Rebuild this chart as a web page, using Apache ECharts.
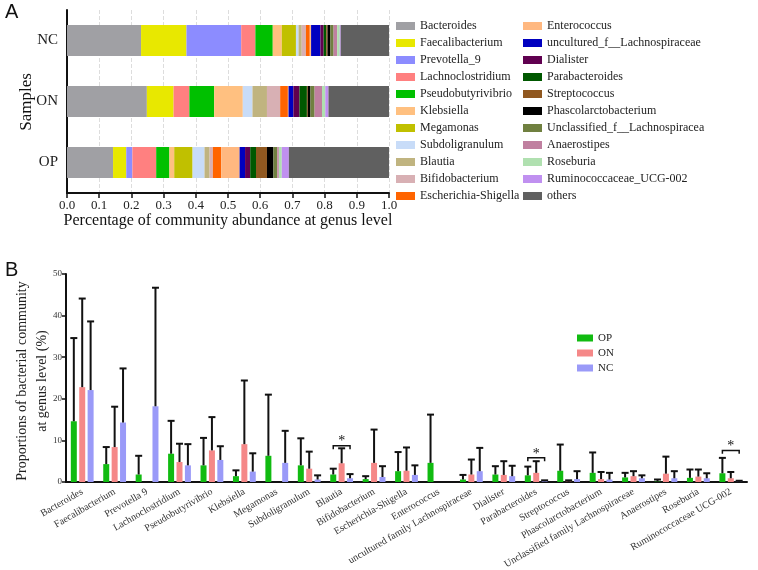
<!DOCTYPE html>
<html>
<head>
<meta charset="utf-8">
<script src="https://cdn.jsdelivr.net/npm/echarts@6/dist/echarts.min.js"></script>
<style>
  html, body { margin: 0; padding: 0; background: #fff; }
  #chart { width: 758px; height: 570px; }
</style>
</head>
<body>
<div id="chart"></div>
<script>
// panel A: relative abundance per sample (stacked, sums to 1)
let samples = ['OP', 'ON', 'NC'];
let genera = ['Bacteroides', 'Faecalibacterium', 'Prevotella_9', 'Lachnoclostridium', 'Pseudobutyrivibrio',
    'Klebsiella', 'Megamonas', 'Subdoligranulum', 'Blautia', 'Bifidobacterium', 'Escherichia-Shigella',
    'Enterococcus', 'uncultured_f__Lachnospiraceae', 'Dialister', 'Parabacteroides', 'Streptococcus',
    'Phascolarctobacterium', 'Unclassified_f__Lachnospiracea', 'Anaerostipes', 'Roseburia',
    'Ruminococcaceae_UCG-002', 'others'];
let abundOP = [0.143, 0.041, 0.019, 0.074, 0.041, 0.015, 0.057, 0.037, 0.016, 0.010, 0.026,
    0.057, 0.017, 0.016, 0.018, 0.034, 0.020, 0.012, 0.005, 0.009, 0.022, 0.311];
let abundON = [0.248, 0.083, 0, 0.049, 0.077, 0.089, 0, 0.030, 0.045, 0.041, 0.024,
    0.002, 0.015, 0.019, 0.023, 0.003, 0.008, 0.013, 0.023, 0.010, 0.010, 0.188];
let abundNC = [0.230, 0.141, 0.170, 0.044, 0.054, 0.028, 0.044, 0.008, 0.010, 0.013, 0.012,
    0.004, 0.029, 0.010, 0.008, 0.004, 0.009, 0.010, 0.011, 0.008, 0.003, 0.150];
let abundTicks = [0, 0.1, 0.2, 0.3, 0.4, 0.5, 0.6, 0.7, 0.8, 0.9, 1.0];

// panel B: mean proportion (%) and top of error bar per group
let genusB = ['Bacteroides', 'Faecalibacterium', 'Prevotella 9', 'Lachnoclostridium', 'Pseudobutyrivibrio',
    'Klebsiella', 'Megamonas', 'Subdoligranulum', 'Blautia', 'Bifidobacterium', 'Escherichia-Shigella',
    'Enterococcus', 'uncultured family Lachnospiraceae', 'Dialister', 'Parabacteroides', 'Streptococcus',
    'Phascolarctobacterium', 'Unclassified family Lachnospiraceae', 'Anaerostipes', 'Roseburia',
    'Ruminococcaceae UCG-002'];
let meanOP = [14.6, 4.3, 1.8, 6.8, 4.0, 1.4, 6.3, 4.0, 1.8, 0.7, 2.6, 4.6, 0.6, 1.8, 1.6, 2.7, 2.2, 1.1, 0.1, 1.0, 2.1];
let topOP = [34.6, 8.4, 6.3, 14.7, 10.6, 2.8, 21.0, 10.5, 3.2, 1.4, 7.2, 16.2, 1.7, 3.8, 3.7, 9.0, 7.1, 2.2, 0.6, 3.0, 5.8];
let meanON = [22.8, 8.4, 0, 4.8, 7.6, 9.1, 0, 3.2, 4.5, 4.6, 2.7, 0, 1.8, 1.7, 2.2, 0.1, 0.7, 1.4, 2.0, 1.3, 0.9];
let topON = [44.1, 18.1, 0, 9.2, 15.6, 24.4, 0, 7.3, 8.1, 12.6, 8.3, 0, 5.4, 5.0, 5.0, 0.4, 2.4, 2.6, 6.1, 3.0, 2.4];
let meanNC = [22.1, 14.3, 18.2, 4.0, 5.3, 2.5, 4.6, 0.6, 0.9, 1.2, 1.7, 0, 2.6, 1.4, 0.2, 0.7, 0.6, 0.9, 0.9, 0.9, 0.1];
let topNC = [38.6, 27.3, 46.7, 9.1, 8.6, 6.9, 12.3, 1.6, 1.9, 3.8, 4.0, 0, 8.2, 3.9, 0.4, 2.6, 2.2, 1.6, 2.6, 2.1, 0.3];
// significance brackets (OP vs NC): category index, bracket height
let sigIdx = [8, 14, 20];
let sigLevel = [8.7, 5.8, 7.6];

let genusColors = ['#a0a0a4', '#e8e800', '#8c8cff', '#ff8080', '#00c000', '#ffc080', '#c0c000', '#c8dcf8',
    '#c0b480', '#d8b0b4', '#ff6400', '#ffb880', '#0000c0', '#600050', '#005800', '#905820', '#000000',
    '#708040', '#c080a0', '#b0e0b0', '#c090f0', '#606060'];
let groupColors = ['#11bb11', '#f58888', '#9a9af8'];

const SERIF = 'Liberation Serif';
const BAR_W = 6;
const BAR_STEP = 8.4;

let chart = echarts.init(document.getElementById('chart'));

let seriesA = genera.map(function (g, i) {
    return {
        name: g,
        type: 'bar',
        stack: 'total',
        xAxisIndex: 0,
        yAxisIndex: 0,
        barWidth: 31,
        itemStyle: { color: genusColors[i] },
        data: [abundOP[i], abundON[i], abundNC[i]],
        silent: true,
    };
});

let groups = [
    { name: 'OP', mean: meanOP, top: topOP },
    { name: 'ON', mean: meanON, top: topON },
    { name: 'NC', mean: meanNC, top: topNC },
];

let seriesB = groups.map(function (g, k) {
    return {
        name: g.name,
        type: 'bar',
        xAxisIndex: 1,
        yAxisIndex: 1,
        barWidth: BAR_W,
        barGap: '40%',
        itemStyle: { color: groupColors[k] },
        data: g.mean,
        silent: true,
    };
});

let errSeries = groups.map(function (g, k) {
    return {
        type: 'custom',
        xAxisIndex: 1,
        yAxisIndex: 1,
        silent: true,
        z: 5,
        data: g.mean.map(function (m, i) { return [i, g.top[i], m]; }),
        renderItem: function (params, api) {
            let top = api.value(1);
            if (top <= 0) {
                return;
            }
            let pTop = api.coord([api.value(0), top]);
            let pMean = api.coord([api.value(0), api.value(2)]);
            let x = pTop[0] + (k - 1) * BAR_STEP;
            let st = { stroke: '#111', lineWidth: 2 };
            return {
                type: 'group',
                children: [
                    { type: 'line', shape: { x1: x, y1: pMean[1], x2: x, y2: pTop[1] }, style: st },
                    { type: 'line', shape: { x1: x - 3.5, y1: pTop[1], x2: x + 3.5, y2: pTop[1] }, style: st },
                ],
            };
        },
    };
});

let sigSeries = {
    type: 'custom',
    xAxisIndex: 1,
    yAxisIndex: 1,
    silent: true,
    z: 6,
    data: sigIdx.map(function (c, i) { return [c, sigLevel[i]]; }),
    renderItem: function (params, api) {
        let p = api.coord([api.value(0), api.value(1)]);
        let pLow = api.coord([api.value(0), api.value(1) - 0.8]);
        let x1 = p[0] - BAR_STEP;
        let x2 = p[0] + BAR_STEP;
        return {
            type: 'group',
            children: [
                {
                    type: 'polyline',
                    shape: { points: [[x1, pLow[1]], [x1, p[1]], [x2, p[1]], [x2, pLow[1]]] },
                    style: { stroke: '#111', lineWidth: 1.5, fill: null },
                },
                {
                    type: 'text',
                    style: {
                        text: '*', x: p[0], y: p[1] + 3, textAlign: 'center', textVerticalAlign: 'bottom',
                        fontSize: 14, fontFamily: SERIF, fill: '#111',
                    },
                },
            ],
        };
    },
};

let legendText = { fontFamily: SERIF, fontSize: 12, color: '#222', lineHeight: 14 };

chart.setOption({
    animation: false,
    backgroundColor: '#fff',
    textStyle: { fontFamily: SERIF },
    graphic: [
        { type: 'text', left: 5, top: 2, style: { text: 'A', fontSize: 20, fontFamily: 'Liberation Sans', fill: '#111' } },
        { type: 'text', left: 5, top: 260, style: { text: 'B', fontSize: 20, fontFamily: 'Liberation Sans', fill: '#111' } },
        // rotated axis titles, placed by hand
        {
            type: 'text', x: 27, y: 102, rotation: Math.PI / 2,
            style: {
                text: 'Samples', fontSize: 17, fontFamily: SERIF, fill: '#111',
                textAlign: 'center', textVerticalAlign: 'middle',
            },
        },
        {
            type: 'text', x: 32, y: 381, rotation: Math.PI / 2,
            style: {
                text: 'Proportions of bacterial community\nat genus level (%)', fontSize: 14, lineHeight: 20,
                fontFamily: SERIF, fill: '#222', textAlign: 'center', textVerticalAlign: 'middle',
            },
        },
    ],
    legend: [
        {
            data: genera.slice(0, 11), orient: 'vertical', left: 391, top: 14,
            itemWidth: 19, itemHeight: 8, itemGap: 3, icon: 'rect', textStyle: legendText,
            selectedMode: false,
        },
        {
            data: genera.slice(11), orient: 'vertical', left: 518, top: 14,
            itemWidth: 19, itemHeight: 8, itemGap: 3, icon: 'rect', textStyle: legendText,
            selectedMode: false,
        },
        {
            data: ['OP', 'ON', 'NC'], orient: 'vertical', left: 572, top: 327,
            itemWidth: 16, itemHeight: 7, itemGap: 3, icon: 'rect',
            textStyle: { fontFamily: SERIF, fontSize: 11, color: '#222', lineHeight: 12 },
            selectedMode: false,
        },
    ],
    grid: [
        { left: 67, top: 10, width: 322, height: 183, outerBoundsMode: 'none' },
        { left: 66, top: 274, width: 681, height: 208, outerBoundsMode: 'none' },
    ],
    xAxis: [
        {
            gridIndex: 0, type: 'value', min: 0, max: 1, interval: 0.1,
            name: 'Percentage of community abundance at genus level', nameLocation: 'middle', nameGap: 18,
            nameTextStyle: { fontFamily: SERIF, fontSize: 16, color: '#111' },
            axisLine: { show: true, lineStyle: { color: '#111', width: 2 } },
            axisTick: { show: true, length: 5, lineStyle: { color: '#111', width: 1.5 } },
            axisLabel: {
                fontFamily: SERIF, fontSize: 13, color: '#222', margin: 6,
                formatter: function (v) { return abundTicks.indexOf(Math.round(v * 10) / 10) >= 0 ? v.toFixed(1) : ''; },
            },
            splitLine: { show: true, lineStyle: { color: '#dddddd', type: 'dashed' } },
        },
        {
            gridIndex: 1, type: 'category', data: genusB,
            axisLine: { lineStyle: { color: '#111', width: 2 } },
            axisTick: { alignWithLabel: true, length: 5, lineStyle: { color: '#111', width: 1.5 } },
            axisLabel: { rotate: 30, interval: 0, fontFamily: SERIF, fontSize: 10, color: '#333', margin: 9 },
        },
    ],
    yAxis: [
        {
            gridIndex: 0, type: 'category', data: samples,
            axisLine: { lineStyle: { color: '#111', width: 2 } },
            axisTick: { alignWithLabel: true, length: 5, lineStyle: { color: '#111', width: 1.5 } },
            axisLabel: { fontFamily: SERIF, fontSize: 15, color: '#222', margin: 9 },
        },
        {
            gridIndex: 1, type: 'value', min: 0, max: 50, interval: 10,
            axisLine: { show: true, lineStyle: { color: '#111', width: 2 } },
            axisTick: { show: true, length: 4, lineStyle: { color: '#111', width: 1.5 } },
            axisLabel: { fontFamily: SERIF, fontSize: 9, color: '#333', margin: 4 },
            splitLine: { show: false },
        },
    ],
    series: seriesA.concat(seriesB, errSeries, [sigSeries]),
});
</script>
</body>
</html>
